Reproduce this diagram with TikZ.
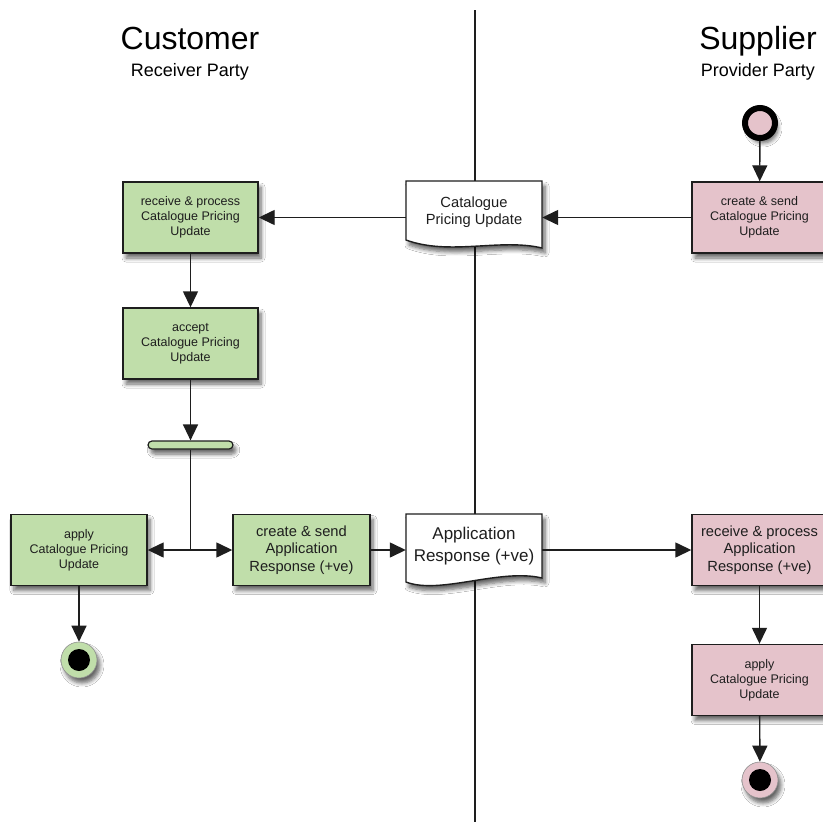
\documentclass[tikz,border=0pt]{standalone}
\usepackage{fontspec}
\setmainfont{Liberation Sans}
\usetikzlibrary{arrows.meta,shadows.blur,calc}
\definecolor{gfill}{RGB}{192,222,170}
\definecolor{pfill}{RGB}{229,195,203}
\definecolor{edge}{RGB}{30,30,30}
\tikzset{
 sh/.style={blur shadow={shadow xshift=3pt,shadow yshift=-5pt,shadow blur radius=4pt,shadow blur steps=6,shadow opacity=60}},
 actbox/.style={draw=edge,line width=1.4pt,minimum width=135pt,minimum height=71pt,align=center,inner sep=0pt,sh,text=edge},
 gbox/.style={actbox,fill=gfill},
 pbox/.style={actbox,fill=pfill},
 small/.style={font=\fontsize{12.5}{15}\selectfont},
 mid/.style={font=\fontsize{14.7}{17.5}\selectfont},
 big/.style={font=\fontsize{17}{21.5}\selectfont},
 arr/.style={line width=1.4pt,draw=edge,-{Triangle[length=16pt,width=15pt]}},
 ln/.style={line width=1.4pt,draw=edge},
 docpath/.style={draw=edge,line width=1.4pt,fill=white,sh},
 doctext/.style={minimum width=136pt,inner sep=0pt,align=center,text=edge},
 endnode/.style={circle,draw=edge!50,line width=0.6pt,minimum size=36pt,inner sep=0pt,sh},
 dot/.style={circle,fill=black,minimum size=22pt,inner sep=0pt},
 title/.style={anchor=base,font=\fontsize{32}{38}\selectfont},
 subtitle/.style={anchor=base,font=\fontsize{18}{22}\selectfont},
}
\begin{document}
\begin{tikzpicture}[x=1pt,y=-1pt]
\useasboundingbox (0,0) rectangle (823,822);
\fill[white] (0,0) rectangle (823,822);
% lane divider
\coordinate (lt) at (475,10);
\coordinate (lb) at (475,822);
\draw[ln] (lt) -- (lb);
% titles
\node[title] (cust) at (190,49) {Customer};
\node[subtitle] (custsub) at (190,76) {Receiver Party};
\node[title] (supp) at (758,49) {Supplier};
\node[subtitle] (suppsub) at (758,76) {Provider Party};
% supplier start
\node[circle,draw=black,line width=6pt,fill=pfill,minimum size=30pt,inner sep=0pt,sh] (start) at (760,123) {};
\node[pbox,small] (pcs) at (759.5,217.5) {create \& send\\Catalogue Pricing\\Update};
\draw[arr] (start) -- (pcs);
% document 1
\draw[docpath] (406,181) -- (542,181) -- (542,248) .. controls (500,238) and (450,256) .. (406,240) -- cycle;
\node[doctext,mid] (d1) at (474,212) {Catalogue\\Pricing Update};
\node[gbox,small] (rp1) at (190.5,217.5) {receive \& process\\Catalogue Pricing\\Update};
\draw[arr] (pcs.west) -- (pcs.west -| d1.east);
\draw[arr] (pcs.west -| d1.west) -- (rp1.east);
% accept
\node[gbox,small] (acc) at (190.5,343.5) {accept\\Catalogue Pricing\\Update};
\draw[arr] (rp1) -- (acc);
% fork bar
\node[draw=edge,line width=1.2pt,fill=gfill,rounded corners=4pt,minimum width=85pt,minimum height=8pt,inner sep=0pt,sh] (bar) at (190.5,445) {};
\draw[arr] (acc) -- (bar);
\coordinate (j) at (190.5,550);
\draw[ln] (bar) -- (j);
% green apply and create & send
\node[gbox,small,minimum width=136pt] (gap) at (79,550) {apply\\Catalogue Pricing\\Update};
\node[gbox,mid,minimum width=137pt] (csa) at (301.5,550) {create \& send\\Application\\Response (+ve)};
\draw[arr] (j) -- (gap);
\draw[arr] (j) -- (csa);
% green end
\node[endnode,fill=gfill] (gend) at (79,660) {};
\node[dot] (gendc) at (gend) {};
\draw[arr] (gap) -- (gend);
% document 2
\draw[docpath] (406,514) -- (542,514) -- (542,578) .. controls (500,568) and (440,595) .. (406,582) -- cycle;
\node[doctext,big] (d2) at (474,546) {Application\\Response (+ve)};
\node[pbox,mid] (prp) at (759.5,550) {receive \& process\\Application\\Response (+ve)};
\draw[arr] (csa.east) -- (csa.east -| d2.west);
\draw[arr] (csa.east -| d2.east) -- (prp.west);
% pink apply
\node[pbox,small] (papp) at (759.5,680) {apply\\Catalogue Pricing\\Update};
\draw[arr] (prp) -- (papp);
% pink end
\node[endnode,fill=pfill] (pend) at (760,780) {};
\node[dot] (pendc) at (pend) {};
\draw[arr] (papp) -- (pend);
\end{tikzpicture}
\end{document}
